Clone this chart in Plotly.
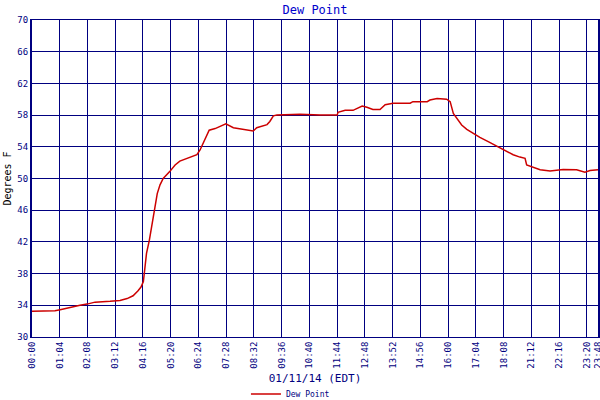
import plotly.graph_objects as go

# time in minutes after midnight (axis spans 0..1428), dew point in degrees F
minutes = [0, 58, 71, 83, 101, 121, 139, 159, 197, 222, 240, 255, 267, 275, 281, 285, 289, 296,
           302, 309, 316, 323, 331, 348, 361, 373, 390, 416, 424, 436, 447, 462, 474, 489, 508,
           533, 558, 567, 583, 593, 600, 609, 618, 676, 727, 770, 772, 790, 810, 820, 833, 845,
           860, 878, 891, 911, 954, 961, 997, 1004, 1022, 1046, 1055, 1063, 1072, 1084, 1097,
           1113, 1130, 1151, 1172, 1193, 1214, 1231, 1244, 1248, 1265, 1282, 1307, 1324, 1340,
           1374, 1395, 1408, 1428]
dew_point = [33.25, 33.3, 33.45, 33.6, 33.8, 34.0, 34.15, 34.4, 34.5, 34.6, 34.85, 35.2, 35.8,
             36.3, 37.0, 38.9, 40.6, 42.2, 43.9, 46.0, 48.1, 49.2, 50.0, 50.9, 51.7, 52.2, 52.5,
             53.0, 53.6, 54.9, 56.1, 56.3, 56.6, 56.9, 56.4, 56.2, 56.0, 56.4, 56.7, 56.8, 57.2,
             57.9, 58.0, 58.1, 58.0, 58.0, 58.35, 58.6, 58.6, 58.85, 59.15, 59.0, 58.7, 58.7,
             59.3, 59.5, 59.5, 59.7, 59.7, 59.9, 60.1, 60.0, 59.7, 58.2, 57.6, 56.75, 56.2, 55.7,
             55.2, 54.65, 54.1, 53.5, 53.0, 52.7, 52.55, 51.7, 51.4, 51.1, 50.95, 51.1, 51.15,
             51.1, 50.8, 51.0, 51.1]

tick_minutes = [0, 70, 140, 210, 280, 350, 420, 490, 560, 630, 700, 770, 840, 910, 980, 1050,
                1120, 1190, 1260, 1330, 1400, 1427]
tick_labels = ["00:00", "01:04", "02:08", "03:12", "04:16", "05:20", "06:24", "07:28", "08:32",
               "09:36", "10:40", "11:44", "12:48", "13:52", "14:56", "16:00", "17:04", "18:08",
               "21:12", "22:16", "23:20", "23:48"]
y_ticks = [30, 34, 38, 42, 46, 50, 54, 58, 62, 66, 70]

NAVY = "#000080"
MONO = "DejaVu Sans Mono"

fig = go.Figure()
fig.add_trace(go.Scatter(x=minutes, y=dew_point, mode="lines", name="Dew Point",
                         line=dict(color="#cc0000", width=1.5)))

fig.update_layout(
    width=600, height=400,
    margin=dict(l=32, r=2, t=20, b=63, autoexpand=False),
    paper_bgcolor="white", plot_bgcolor="white",
    title=dict(text="Dew Point", x=0.525, xanchor="center", y=0.985, yanchor="top",
               font=dict(family=MONO, size=12, color="#0000cc")),
    showlegend=True,
    legend=dict(orientation="h", x=0.378, xanchor="left", y=-0.18, yanchor="middle",
                font=dict(family=MONO, size=8, color=NAVY), itemwidth=30),
    xaxis=dict(range=[0, 1428], tickmode="array", tickvals=tick_minutes, ticktext=tick_labels,
               tickangle=-90, tickfont=dict(family=MONO, size=9, color=NAVY), automargin=False,
               ticklabeloverflow="allow",
               showgrid=True, gridcolor=NAVY, gridwidth=1, zeroline=False,
               showline=True, linecolor=NAVY, linewidth=1, mirror=True, ticks="",
               title=dict(text="01/11/14 (EDT)", standoff=6,
                          font=dict(family=MONO, size=11, color=NAVY))),
    yaxis=dict(range=[30, 70], tickmode="array", tickvals=y_ticks, automargin=False,
               tickfont=dict(family=MONO, size=9, color=NAVY),
               showgrid=True, gridcolor=NAVY, gridwidth=1, zeroline=False,
               showline=True, linecolor=NAVY, linewidth=2, mirror=True, ticks="",
               title=dict(text="Degrees F", standoff=4,
                          font=dict(family=MONO, size=10, color="#000000"))),
)

fig.write_html("out.html", config={"displayModeBar": False},
               post_script="document.body.style.margin='0';document.body.style.overflow='hidden';")
